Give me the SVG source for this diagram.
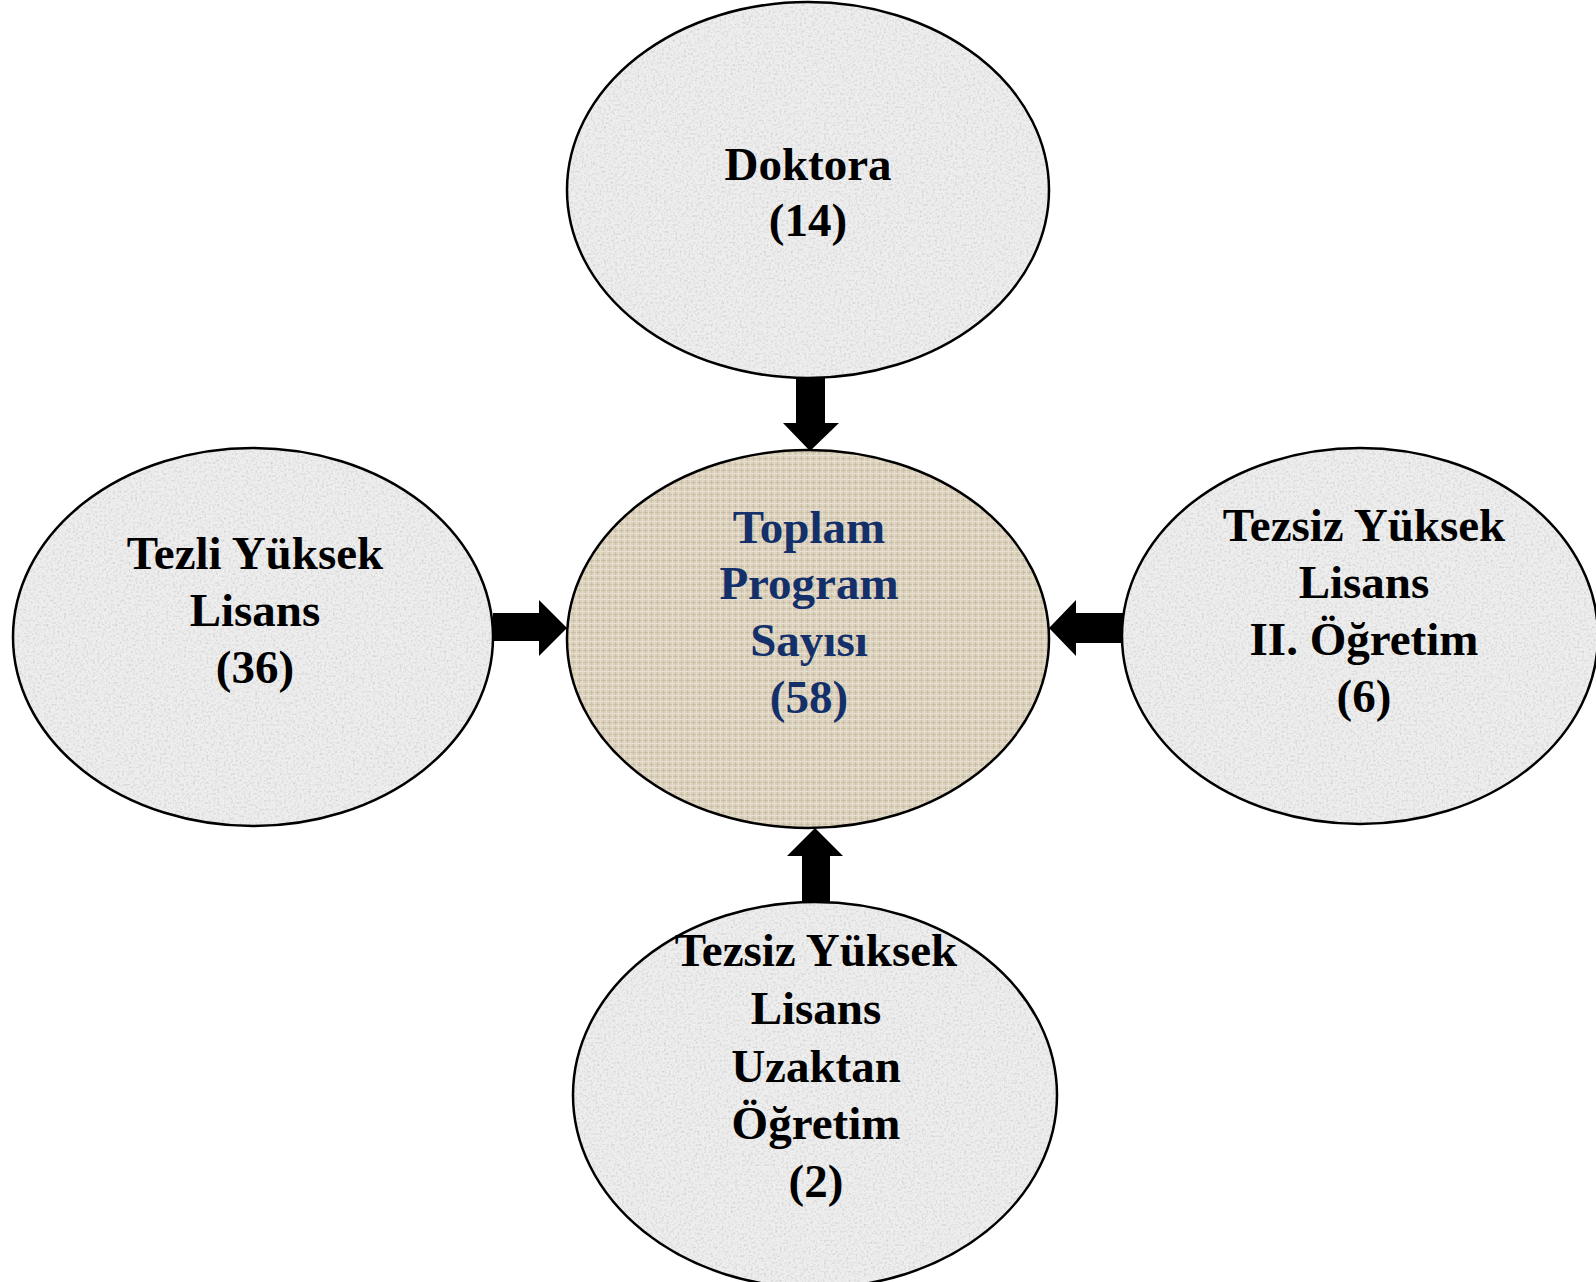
<svg xmlns="http://www.w3.org/2000/svg" width="1596" height="1282" viewBox="0 0 1596 1282">
<style>
.lbl{font-family:"Liberation Serif","Times New Roman",serif;font-weight:bold;font-size:47px;text-anchor:middle;fill:#000}
.ctr{fill:#14306b}
.edge{fill:none;stroke:#000;stroke-width:2.5}
.gran{fill:#eeeeee}
.arrow{fill:#000}
</style>
<defs>
<filter id="granite" x="0" y="0" width="100%" height="100%">
<feTurbulence type="fractalNoise" baseFrequency="0.45" numOctaves="2" seed="7" result="n"/>
<feColorMatrix in="n" type="matrix" values="0 0 0 0 0.62  0 0 0 0 0.62  0 0 0 0 0.62  0 0 0 -2.2 1.2" result="g"/>
<feComposite in="g" in2="SourceGraphic" operator="in" result="gi"/>
<feMerge><feMergeNode in="SourceGraphic"/><feMergeNode in="gi"/></feMerge>
</filter>
<pattern id="linen" width="6" height="6" patternUnits="userSpaceOnUse">
<rect width="6" height="6" fill="#dcd2bd"/>
<rect x="0" y="2" width="6" height="1" fill="#c9bea6"/>
<rect x="3" y="0" width="1" height="6" fill="#cbc0a8"/>
<rect x="0" y="5" width="6" height="1" fill="#e7dfcf"/>
<rect x="0" y="0" width="1" height="6" fill="#e5ddcb"/>
</pattern>
</defs>

<g id="connectors">
<polygon class="arrow" points="796,376 825,376 825,423 839,423 810,451 783,423 796,423"/>
<polygon class="arrow" points="493,613 539,613 539,600 567,628 539,656 539,641 493,641"/>
<polygon class="arrow" points="1123,613 1076,613 1076,600 1049,628 1076,656 1076,643 1123,643"/>
<polygon class="arrow" points="802,903 802,856 787,856 815,828 843,856 830,856 830,903"/>
</g>

<g id="node-doktora">
<ellipse class="gran" filter="url(#granite)" cx="808" cy="190" rx="241" ry="188"/>
<ellipse class="edge" cx="808" cy="190" rx="241" ry="188"/>
<text class="lbl" x="808" y="180">Doktora</text>
<text class="lbl" x="808" y="236">(14)</text>
</g>

<g id="node-toplam">
<ellipse fill="url(#linen)" cx="808" cy="639" rx="241" ry="189"/>
<ellipse class="edge" cx="808" cy="639" rx="241" ry="189"/>
<text class="lbl ctr" x="809" y="543">Toplam</text>
<text class="lbl ctr" x="809" y="599">Program</text>
<text class="lbl ctr" x="809" y="656">Sayısı</text>
<text class="lbl ctr" x="809" y="713">(58)</text>
</g>

<g id="node-tezli">
<ellipse class="gran" filter="url(#granite)" cx="253" cy="637" rx="240" ry="189"/>
<ellipse class="edge" cx="253" cy="637" rx="240" ry="189"/>
<text class="lbl" x="255" y="569">Tezli Yüksek</text>
<text class="lbl" x="255" y="626">Lisans</text>
<text class="lbl" x="255" y="683">(36)</text>
</g>

<g id="node-tezsiz-ii">
<ellipse class="gran" filter="url(#granite)" cx="1360" cy="636" rx="238" ry="188"/>
<ellipse class="edge" cx="1360" cy="636" rx="238" ry="188"/>
<text class="lbl" x="1364" y="541">Tezsiz Yüksek</text>
<text class="lbl" x="1364" y="598">Lisans</text>
<text class="lbl" x="1364" y="655">II. Öğretim</text>
<text class="lbl" x="1364" y="712">(6)</text>
</g>

<g id="node-tezsiz-uzaktan">
<ellipse class="gran" filter="url(#granite)" cx="815" cy="1095" rx="242" ry="193"/>
<ellipse class="edge" cx="815" cy="1095" rx="242" ry="193"/>
<text class="lbl" x="816" y="966">Tezsiz Yüksek</text>
<text class="lbl" x="816" y="1024">Lisans</text>
<text class="lbl" x="816" y="1082">Uzaktan</text>
<text class="lbl" x="816" y="1139">Öğretim</text>
<text class="lbl" x="816" y="1197">(2)</text>
</g>
</svg>
